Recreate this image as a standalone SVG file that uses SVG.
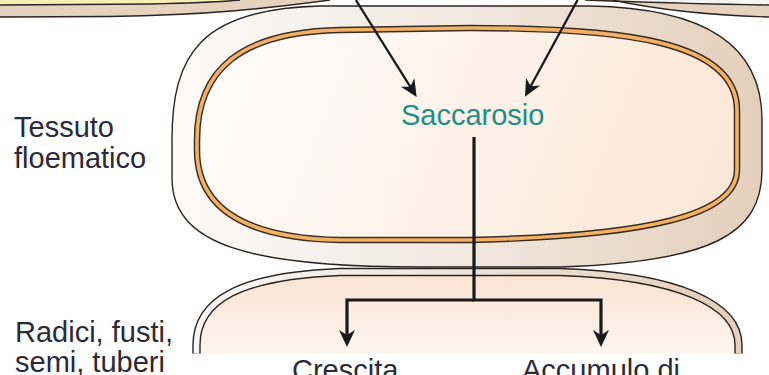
<svg xmlns="http://www.w3.org/2000/svg" width="769" height="375" viewBox="0 0 769 375">
<style>
.lbl{font-family:"Liberation Sans",Arial,sans-serif;font-size:29px;fill:#2a2a38}
.sug{font-family:"Liberation Sans",Arial,sans-serif;font-size:29px;fill:#1f8f86}
.ln{fill:none;stroke:#1a1a1a;stroke-linejoin:miter}
.edge{fill:none;stroke:#2a2522;stroke-width:1.4}
</style>
<defs>
<linearGradient id="wall" x1="170" y1="0" x2="765" y2="0" gradientUnits="userSpaceOnUse">
<stop offset="0" stop-color="#fbfaf8"/><stop offset="0.5" stop-color="#f1e8df"/><stop offset="1" stop-color="#e3cfbb"/>
</linearGradient>
<linearGradient id="proto" x1="200" y1="30" x2="740" y2="240" gradientUnits="userSpaceOnUse">
<stop offset="0" stop-color="#fffdfb"/><stop offset="1" stop-color="#fbe6d5"/>
</linearGradient>
<linearGradient id="lowfill" x1="0" y1="270" x2="0" y2="354" gradientUnits="userSpaceOnUse">
<stop offset="0" stop-color="#fae2d1"/><stop offset="1" stop-color="#fdf5ef"/>
</linearGradient>
<linearGradient id="lowwall" x1="190" y1="0" x2="745" y2="0" gradientUnits="userSpaceOnUse">
<stop offset="0" stop-color="#faf8f6"/><stop offset="1" stop-color="#e3cfbb"/>
</linearGradient>
<clipPath id="cut"><rect x="0" y="0" width="769" height="353.5"/></clipPath>
<marker id="ah" viewBox="-18 -9 20 18" markerWidth="20" markerHeight="18" refX="-8" refY="0" orient="auto" markerUnits="userSpaceOnUse">
<path d="M0,0 L-17,-8 L-12,0 L-17,8 Z" fill="#1a1a1a"/>
</marker>
</defs>

<g id="upper-cells">
<path d="M0,0 L240,0 C225,2 190,3 150,4 L0,5 Z" fill="#f6efb4"/>
<path d="M0,5 L150,4 C190,3 220,2 240,0 L330,0 C270,8 210,15 110,16.5 L0,17 Z" fill="#e6d2bf"/>
<path d="M0,5 L150,4 C190,3 220,2 240,0" class="edge"/>
<path d="M0,17 L110,16.5 C210,15 270,8 330,0" class="edge"/>
<path d="M585,0 L769,0 L769,5 C700,4 640,2 585,0 Z" fill="#f4f4f1"/>
<path d="M585,0 C640,2 700,4 769,5 L769,17 C700,15 650,8 612,0 Z" fill="#e6d2bf"/>
<path d="M585,0 C640,2 700,4 769,5" class="edge"/>
<path d="M612,0 C650,8 700,15 769,17" class="edge"/>
</g>

<g id="phloem-cell">
<path d="M172,178 L172,140 C172,55 200,9 320,6 L590,6 C705,8 762,45 762,120 L762,170 C762,235 710,262 560,267 L420,267 C250,267 172,245 172,178 Z" fill="url(#wall)" stroke="#2a2522" stroke-width="1.4"/>
<path id="mem" d="M197,150 L197,140 C197,70 240,32 340,30 L470,28 C620,28 737,40 737,110 L737,170 C737,215 650,236 470,240 L340,240 C240,238 197,205 197,150 Z" fill="url(#proto)" stroke="#3a2c22" stroke-width="6.5"/>
<path d="M197,150 L197,140 C197,70 240,32 340,30 L470,28 C620,28 737,40 737,110 L737,170 C737,215 650,236 470,240 L340,240 C240,238 197,205 197,150 Z" fill="none" stroke="#f2b266" stroke-width="3.6"/>
</g>

<g id="sink-cell" clip-path="url(#cut)">
<path d="M196.5,360 L196.5,345 C196.5,300 240,276 340,272 L560,272 C680,276 738.5,305 738.5,345 L738.5,360 Z" fill="url(#lowfill)"/>
<path d="M196.5,360 L196.5,345 C196.5,300 240,276 340,272 L560,272 C680,276 738.5,305 738.5,345 L738.5,360" fill="none" stroke="#2a2522" stroke-width="8.4"/>
<path d="M196.5,360 L196.5,345 C196.5,300 240,276 340,272 L560,272 C680,276 738.5,305 738.5,345 L738.5,360" fill="none" stroke="url(#lowwall)" stroke-width="5.6"/>
</g>

<g id="connectors">
<line x1="355.8" y1="0" x2="412.4" y2="90.2" class="ln" stroke-width="2.3" marker-end="url(#ah)"/>
<line x1="577.6" y1="0" x2="528.8" y2="89.7" class="ln" stroke-width="2.3" marker-end="url(#ah)"/>
<path d="M474,300 L347,300 L347,339" class="ln" stroke-width="3.2" marker-end="url(#ah)"/>
<path d="M474,137 L474,300 L601,300 L601,339" class="ln" stroke-width="3.2" marker-end="url(#ah)"/>
</g>

<g id="labels">
<text class="lbl" x="14" y="136.7">Tessuto</text>
<text class="lbl" x="14" y="168.3">floematico</text>
<text class="sug" x="472.7" y="125" text-anchor="middle">Saccarosio</text>
<text class="lbl" x="15" y="341.7">Radici, fusti,</text>
<text class="lbl" x="15" y="371.7">semi, tuberi</text>
<text class="lbl" x="292" y="379.5">Crescita</text>
<text class="lbl" x="522" y="379.5">Accumulo di</text>
</g>
</svg>
